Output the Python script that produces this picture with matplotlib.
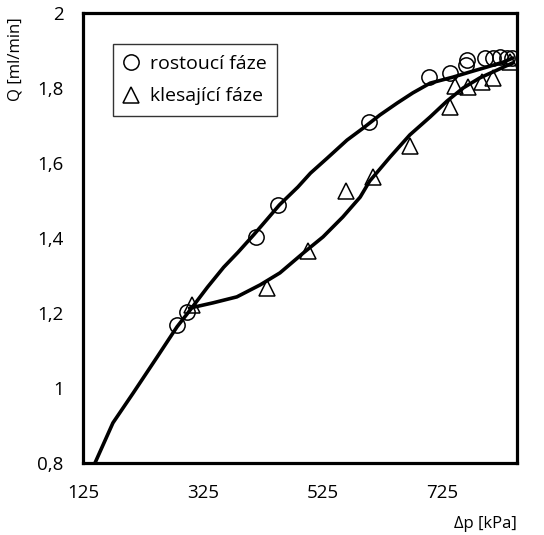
import matplotlib
matplotlib.use("Agg")
import matplotlib.pyplot as plt
from matplotlib.ticker import FuncFormatter

plt.rcParams['font.family'] = ['Open Sans', 'DejaVu Sans']

# measured points - rising phase (circles)
rise_dp = [282, 299, 414, 451, 603, 703, 738, 765, 766, 797, 810, 822, 833, 842]
rise_q = [1.168, 1.203, 1.403, 1.488, 1.709, 1.829, 1.840, 1.861, 1.875, 1.880, 1.880, 1.883, 1.880, 1.880]

# measured points - falling phase (triangles)
fall_dp = [307, 432, 501, 564, 609, 671, 738, 746, 768, 791, 810, 838]
fall_q = [1.221, 1.267, 1.365, 1.525, 1.563, 1.645, 1.749, 1.805, 1.803, 1.816, 1.827, 1.869]

# hand-drawn loop curves
rise_curve_dp = [145, 175, 209, 249, 282, 304, 333, 360, 384, 411, 431, 453, 484, 505,
                 533, 566, 593, 621, 650, 676, 705, 743, 772, 800, 827, 843]
rise_curve_q = [0.800, 0.907, 0.987, 1.083, 1.163, 1.208, 1.269, 1.322, 1.362, 1.410, 1.447,
                1.488, 1.536, 1.573, 1.613, 1.661, 1.693, 1.728, 1.760, 1.787, 1.813, 1.829,
                1.843, 1.856, 1.869, 1.880]
fall_curve_dp = [303, 342, 382, 421, 454, 493, 526, 559, 588, 604, 638, 671, 705, 733,
                 760, 788, 817, 843]
fall_curve_q = [1.213, 1.227, 1.243, 1.275, 1.307, 1.360, 1.403, 1.456, 1.509, 1.552, 1.616,
                1.675, 1.723, 1.765, 1.800, 1.827, 1.848, 1.867]

x_ticks = [125, 325, 525, 725]
y_ticks = [0.8, 1.0, 1.2, 1.4, 1.6, 1.8, 2.0]

fig = plt.figure(figsize=(5.44, 5.35), dpi=100)
ax = fig.add_axes([83 / 544, 72 / 535, 434 / 544, 450 / 535])

ax.plot(rise_dp, rise_q, linestyle='none', marker='o', ms=11, mfc='none',
        mec='black', mew=1.1, label='rostoucí fáze')
ax.plot(fall_dp, fall_q, linestyle='none', marker='^', ms=12, mfc='none',
        mec='black', mew=1.1, label='klesající fáze')
ax.plot(rise_curve_dp, rise_curve_q, color='black', lw=2.6,
        solid_capstyle='round', solid_joinstyle='round')
ax.plot(fall_curve_dp, fall_curve_q, color='black', lw=2.6,
        solid_capstyle='round', solid_joinstyle='round')

ax.set_xlim(125, 850)
ax.set_ylim(0.8, 2.0)
ax.set_xticks(x_ticks)
ax.set_yticks(y_ticks)
ax.yaxis.set_major_formatter(FuncFormatter(lambda v, p: ('%g' % round(v, 2)).replace('.', ',')))
ax.tick_params(axis='both', length=0, labelsize=13.5)
ax.tick_params(axis='x', pad=15)
ax.tick_params(axis='y', pad=14)
for s in ax.spines.values():
    s.set_linewidth(2.3)

fig.text(517 / 544, 1 - 524 / 535, 'Δp [kPa]', ha='right', va='center', fontsize=12)
fig.text(15 / 544, 1 - 59 / 535, 'Q [ml/min]', ha='center', va='center',
         rotation=90, fontsize=12)

leg = ax.legend(loc='upper left', bbox_to_anchor=(0.069, 0.931), borderaxespad=0,
                frameon=True, fancybox=False, fontsize=14, handlelength=0.8,
                handletextpad=0.55, borderpad=0.55, labelspacing=0.75)
leg.get_frame().set_edgecolor('black')
leg.get_frame().set_linewidth(1.0)

fig.savefig('out.png', dpi=100)
